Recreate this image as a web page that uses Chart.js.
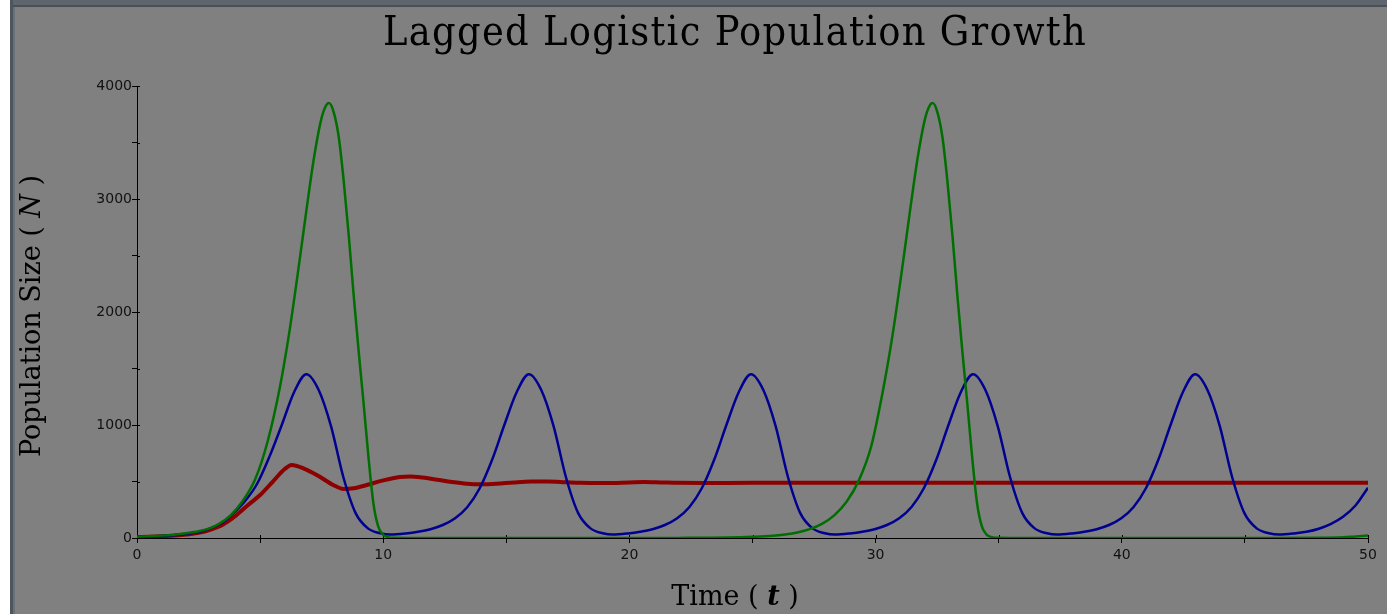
<!DOCTYPE html>
<html>
<head>
<meta charset="utf-8">
<script src="https://cdn.jsdelivr.net/npm/chart.js@4.4.1/dist/chart.umd.min.js"></script>
<style>
  html, body { margin: 0; padding: 0; background: #ffffff; overflow: hidden; }
  #wrap { position: relative; width: 1387px; height: 614px; }
</style>
</head>
<body>
<div id="wrap"><canvas id="c" width="1387" height="614"></canvas></div>
<script>
// Time points and population sizes for each run of the lagged logistic model
const redTime  = [0,0.5,1,1.5,2,2.5,3,3.5,4,4.5,5,5.5,6,6.28,6.8,7.3,7.97,8.38,8.8,9.33,10,10.68,11.1,11.6,12.2,12.8,13.4,14,14.6,15.3,16,16.7,17.4,18,19,20,20.6,21.3,22,23,25,30,35,40,45,50];
const redPop   = [8,11,15,21,30,45,75,120,195,290,380,495,610,646,612,558,469,434,440,469,510,540,545,535,515,495,480,475,480,492,500,500,494,488,486,492,496,492,488,487,488,488,488,488,488,488];

const blueTime = [0,0.5,1,1.5,2,2.5,3,3.5,3.9,4.4,4.88,5.38,5.88,6.38,6.88,7.38,7.88,8.38,8.88,9.38,9.88,10.28,
                  10.92,11.42,11.92,12.42,12.92,13.42,13.92,14.42,14.92,15.42,15.92,16.42,16.92,17.42,17.92,18.42,18.92,19.32,
                  19.94,20.44,20.94,21.44,21.94,22.44,22.94,23.44,23.94,24.44,24.94,25.44,25.94,26.44,26.94,27.44,27.94,28.34,
                  28.96,29.46,29.96,30.46,30.96,31.46,31.96,32.46,32.96,33.46,33.96,34.46,34.96,35.46,35.96,36.46,36.96,37.36,
                  37.98,38.48,38.98,39.48,39.98,40.48,40.98,41.48,41.98,42.48,42.98,43.48,43.98,44.48,44.98,45.48,45.98,46.38,
                  47.0,47.5,48.0,48.5,49.0,49.5,50];
const bluePop  = [10,13,18,25,36,52,88,140,215,330,480,720,1000,1290,1450,1310,990,540,220,85,42,30,
                  40,55,78,115,175,275,440,690,1000,1290,1450,1310,990,540,220,85,42,30,
                  40,55,78,115,175,275,440,690,1000,1290,1450,1310,990,540,220,85,42,30,
                  40,55,78,115,175,275,440,690,1000,1290,1450,1310,990,540,220,85,42,30,
                  40,55,78,115,175,275,440,690,1000,1290,1450,1310,990,540,220,85,42,30,
                  40,55,82,125,190,290,445];

const greenTime = [0,0.5,1,1.5,2,2.5,3,3.3,3.8,4.3,4.8,5.3,5.8,6.2,6.6,6.9,7.2,7.5,7.7,7.8,8.0,8.2,8.4,8.6,8.8,9.0,9.2,9.4,9.6,9.8,10.0,10.2,10.5,11,
                   13,16,19,22,24,25,25.82,26.32,26.82,27.32,27.82,28.32,28.82,29.32,29.82,30.32,30.72,31.12,31.42,31.72,32.02,32.22,32.32,
                   32.52,32.72,32.92,33.12,33.32,33.52,33.72,33.92,34.12,34.32,34.52,34.72,35.0,35.5,38,42,46,48,49,49.5,50];
const greenPop  = [12,16,21,29,42,60,90,120,200,330,520,850,1330,1840,2450,2930,3380,3720,3835,3850,3760,3540,3150,2680,2150,1660,1200,720,310,100,28,8,2,1,
                   0.5,0.3,0.3,1,4,10,19,31,49,78,125,200,320,510,810,1330,1840,2450,2930,3380,3720,3835,3850,
                   3760,3540,3150,2680,2150,1660,1200,720,310,100,28,8,2,1,0.5,0.3,0.5,1.5,6,14,22];

// Axis range and tick spacing
const timeRange = [0, 50];
const popRange  = [0, 4000];
const timeStep  = 5;
const popStep   = 500;

const chartTitle = 'Lagged Logistic Population Growth';
const xTitle = ['Time ( ', 't', ' )'];
const yTitle = ['Population Size ( ', 'N', ' )'];

const pts = (ts, ns) => ts.map((t, i) => ({ x: t, y: ns[i] }));

// Panel background, frame, inner tick stubs and the mixed-style titles
const decor = {
  id: 'decor',
  beforeDraw(chart) {
    const ctx = chart.ctx;
    ctx.save();
    ctx.fillStyle = '#ffffff';
    ctx.fillRect(0, 0, chart.width, chart.height);
    ctx.fillStyle = '#808080';
    ctx.fillRect(10, 0, chart.width - 10, chart.height);
    ctx.fillStyle = '#5e656d';
    ctx.fillRect(10, 0, chart.width - 10, 5);
    ctx.fillStyle = '#4a5058';
    ctx.fillRect(10, 5, chart.width - 10, 2);
    ctx.fillStyle = '#4e555d';
    ctx.fillRect(10, 0, 3, chart.height);
    ctx.fillStyle = '#687078';
    ctx.fillRect(13, 7, 2, chart.height - 7);
    ctx.restore();
  },
  beforeDatasetsDraw(chart) {
    // tick marks cross the axis lines: add the short inner half
    const ctx = chart.ctx;
    const { x, y } = chart.scales;
    ctx.save();
    ctx.strokeStyle = '#000000';
    ctx.lineWidth = 1;
    ctx.beginPath();
    x.ticks.forEach(t => {
      const px = Math.round(x.getPixelForValue(t.value)) + 0.5;
      ctx.moveTo(px, y.bottom);
      ctx.lineTo(px, y.bottom - 3);
    });
    y.ticks.forEach(t => {
      const py = Math.round(y.getPixelForValue(t.value)) + 0.5;
      ctx.moveTo(x.left, py);
      ctx.lineTo(x.left + 3, py);
    });
    ctx.stroke();
    ctx.restore();
  },
  afterDraw(chart) {
    const ctx = chart.ctx;
    ctx.save();
    ctx.fillStyle = '#000000';
    ctx.textBaseline = 'alphabetic';

    // chart title
    ctx.font = '41px "DejaVu Serif Condensed", "DejaVu Serif", serif';
    ctx.letterSpacing = '1.3px';
    ctx.textAlign = 'center';
    ctx.fillText(chartTitle, 735, 45);
    ctx.letterSpacing = '0px';

    // composes a run of text pieces with their own fonts, centred on (cx, y)
    const drawRun = (pieces, cx, y) => {
      let total = 0;
      pieces.forEach(p => { ctx.font = p.font; p.w = ctx.measureText(p.text).width; total += p.w; });
      let x = cx - total / 2;
      ctx.textAlign = 'left';
      pieces.forEach(p => { ctx.font = p.font; ctx.fillText(p.text, x, y); x += p.w; });
    };
    const serif = '"DejaVu Serif", serif';

    drawRun([
      { text: xTitle[0], font: '27px ' + serif },
      { text: xTitle[1], font: 'italic bold 27px ' + serif },
      { text: xTitle[2], font: '27px ' + serif }
    ], 735, 605);

    ctx.save();
    ctx.translate(40, 316);
    ctx.rotate(-Math.PI / 2);
    drawRun([
      { text: yTitle[0], font: '27px ' + serif },
      { text: yTitle[1], font: 'italic 27px ' + serif },
      { text: yTitle[2], font: '27px ' + serif }
    ], 0, 0);
    ctx.restore();

    ctx.restore();
  }
};

const tickFont = { family: '"DejaVu Sans", sans-serif', size: 14 };

new Chart(document.getElementById('c'), {
  type: 'line',
  data: {
    datasets: [
      { label: 'green', data: pts(greenTime, greenPop), borderColor: 'rgb(0,110,0)', borderWidth: 2.5 },
      { label: 'blue',  data: pts(blueTime, bluePop),   borderColor: 'rgb(0,0,145)', borderWidth: 2.5 },
      { label: 'red',   data: pts(redTime, redPop),     borderColor: 'rgb(140,0,0)', borderWidth: 4 }
    ]
  },
  options: {
    responsive: false,
    animation: false,
    elements: {
      point: { radius: 0, hoverRadius: 0 },
      line: { cubicInterpolationMode: 'monotone', fill: false }
    },
    layout: { padding: { top: 86, right: 19, left: 0, bottom: 0 } },
    plugins: {
      legend: { display: false },
      title: { display: false },
      tooltip: { enabled: false }
    },
    scales: {
      x: {
        type: 'linear',
        min: timeRange[0], max: timeRange[1],
        afterFit(scale) { scale.height = 76; },
        grid: { drawOnChartArea: false, drawTicks: true, tickLength: 5, color: '#000000', lineWidth: 1 },
        border: { display: true, color: '#000000', width: 1 },
        ticks: {
          stepSize: timeStep,
          autoSkip: false,
          maxRotation: 0,
          padding: 4,
          color: '#111111',
          font: tickFont,
          callback: v => (v % 10 === 0 ? String(v) : '')
        }
      },
      y: {
        type: 'linear',
        min: popRange[0], max: popRange[1],
        afterFit(scale) { scale.width = 137; },
        grid: { drawOnChartArea: false, drawTicks: true, tickLength: 5, color: '#000000', lineWidth: 1 },
        border: { display: true, color: '#000000', width: 1 },
        ticks: {
          stepSize: popStep,
          autoSkip: false,
          padding: 0,
          color: '#111111',
          font: tickFont,
          callback: v => (v % 1000 === 0 ? String(v) : '')
        }
      }
    }
  },
  plugins: [decor]
});
</script>
</body>
</html>
